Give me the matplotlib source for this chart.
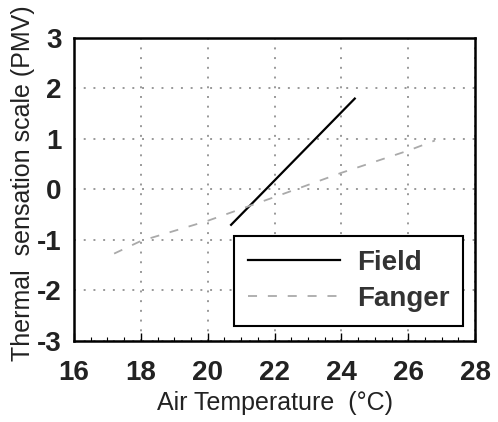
import numpy as np
import matplotlib
matplotlib.use('Agg')
import matplotlib.pyplot as plt

plt.rcParams['font.family'] = ['Liberation Sans', 'DejaVu Sans']
plt.rcParams['axes.unicode_minus'] = False

# Field regression line (end points)
field_t = [20.7, 24.4]
field_pmv = [-0.70, 1.80]

# Fanger PMV prediction
fanger_t = [17.2, 18.0, 20.0, 22.0, 24.0, 26.0, 26.8]
fanger_pmv = [-1.27, -1.02, -0.62, -0.15, 0.33, 0.77, 0.97]

xticks = [16, 18, 20, 22, 24, 26, 28]
yticks = [-3, -2, -1, 0, 1, 2, 3]

fig = plt.figure(figsize=(4.98, 4.22), dpi=100)
ax = fig.add_axes([0.1486, 0.192, 0.8054, 0.718])

ax.plot(field_t, field_pmv, color='black', lw=1.6, label='Field')
ax.plot(fanger_t, fanger_pmv, color='#aaaaaa', lw=1.3, ls=(0, (5, 6)), label='Fanger')

ax.set_xlim(16, 28)
ax.set_ylim(-3, 3)
ax.set_xticks(xticks)
ax.set_yticks(yticks)
ax.set_xticks(np.arange(16.5, 28, 0.5), minor=True)
ax.tick_params(axis='both', which='major', direction='in', length=6, width=1,
               labelsize=20, pad=14)
ax.tick_params(axis='x', which='minor', direction='in', length=3, width=0.8)
ax.tick_params(axis='y', which='major', length=0, pad=9)
for lab in ax.get_xticklabels() + ax.get_yticklabels():
    lab.set_fontweight('bold')
    lab.set_color('#222222')

ax.grid(True, color='#999999', ls=(0, (1, 4)), lw=1.4)
for s in ax.spines.values():
    s.set_linewidth(1.8)

ax.set_xlabel('Air Temperature  (°C)', fontsize=18, color='#222222', labelpad=3)
fig.text(23 / 498, 1 - 183 / 422, 'Thermal  sensation scale (PMV)', rotation=90,
         fontsize=18, color='#222222', ha='center', va='center')

leg = ax.legend(loc='lower right', bbox_to_anchor=(0.97, 0.05), borderaxespad=0,
                prop={'weight': 'bold', 'size': 20}, fancybox=False,
                edgecolor='black', framealpha=1, handlelength=3.3,
                borderpad=0.5, labelspacing=0.35, handletextpad=0.6)
leg.get_frame().set_linewidth(1.5)
for t in leg.get_texts():
    t.set_color('#333333')

fig.savefig('out.png', dpi=100)
